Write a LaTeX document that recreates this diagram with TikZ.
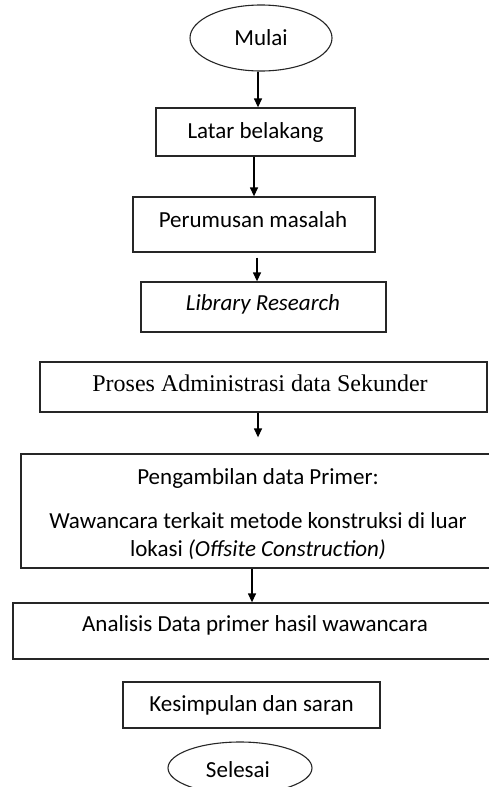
\documentclass[tikz,border=0pt]{standalone}
\usepackage{fontspec}
\setmainfont{Carlito}
\newfontfamily\timesfont{Liberation Serif}
\usetikzlibrary{arrows.meta,shapes.geometric}
\tikzset{
  box/.style={draw=black!85, line width=1.3pt, rectangle, inner sep=0pt, align=center},
  oval/.style={draw=black!85, line width=1.1pt, ellipse, inner sep=0pt},
  txt/.style={inner sep=0pt, align=center},
  arr/.style={line width=1.3pt, -{Triangle[width=8pt,length=9pt]}}
}
\begin{document}
\begin{tikzpicture}[x=1pt,y=-1pt,font=\fontsize{23}{28}\selectfont]
\useasboundingbox (0,0) rectangle (489,787);
\clip (0,0) rectangle (489,787);
\fill[white] (0,0) rectangle (489,787);
\node[oval, minimum width=142pt, minimum height=66pt] (mulai) at (261,38) {Mulai};
\node[box, minimum width=199pt, minimum height=48pt] (latar) at (255.5,132) {Latar belakang};
\node[box, minimum width=242pt, minimum height=55pt] (perum) at (254,224.5) {};
\node[txt] (perumt) at (253,220) {Perumusan masalah};
\node[box, minimum width=245pt, minimum height=50pt] (lib) at (263.5,307) {};
\node[txt] (libt) at (263,304) {\textit{Library Research}};
\node[box, minimum width=447pt, minimum height=50pt] (proses) at (263.5,387) {};
\node[txt] (prosest) at (260,383) {\timesfont\fontsize{24}{28}\selectfont Proses Administrasi data Sekunder};
\node[box, minimum width=474pt, minimum height=114pt] (pengam) at (258,511) {};
\node[txt] (pengamt) at (258,514) {Pengambilan data Primer:\\[16pt]Wawancara terkait metode konstruksi di luar\\lokasi \textit{(Offsite Construction)}};
\node[box, minimum width=484pt, minimum height=56pt] (anal) at (255,631) {};
\node[txt] (analt) at (255,625) {Analisis Data primer hasil wawancara};
\node[box, minimum width=257pt, minimum height=46pt] (kes) at (251.5,705) {Kesimpulan dan saran};
\node[oval, minimum width=144pt, minimum height=52pt] (selesai) at (240,768) {};
\node[txt] (selesait) at (238,770) {Selesai};

\draw[arr] ([xshift=-3pt]mulai.south) -- ([xshift=-3pt]mulai.south |- latar.north);
\draw[arr] ([xshift=-1.5pt]latar.south) -- ([xshift=-1.5pt]latar.south |- perum.north);
\draw[arr] ([xshift=3pt,yshift=-5pt]perum.south) -- ([xshift=3pt]perum.south |- lib.north);
\draw[arr] ([xshift=-5.5pt]proses.south) -- ([xshift=-5.5pt,yshift=16pt]proses.south |- pengam.north);
\draw[arr] ([xshift=-6pt]pengam.south) -- ([xshift=-6pt]pengam.south |- anal.north);
\end{tikzpicture}
\end{document}
